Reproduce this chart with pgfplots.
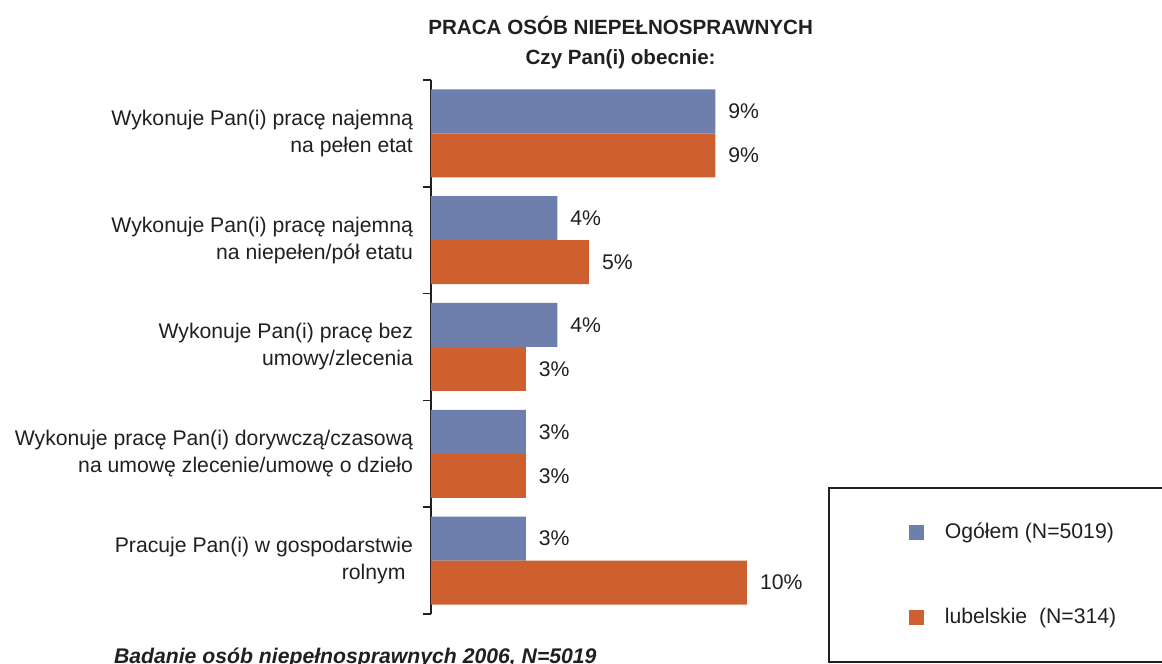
\documentclass[border=0pt]{standalone}
\usepackage{pgfplots}
\pgfplotsset{compat=1.18}
\usepackage{fontspec}
\setmainfont{Liberation Sans}
\usetikzlibrary{calc}

\definecolor{ogolem}{RGB}{111,127,173}
\definecolor{lubel}{RGB}{205,96,46}
\definecolor{txt}{RGB}{35,31,32}

\begin{document}
\begin{tikzpicture}[font=\fontsize{10.6}{13.5}\selectfont, text=txt]
\begin{axis}[
    name=ax,
    scale only axis,
    width=189.6pt, height=267pt,
    xbar, bar width=22pt,
    xmin=0, xmax=12,
    ymin=-0.5, ymax=4.5,
    enlargelimits=false,
    axis x line=none,
    axis y line=left,
    axis line style={-, line width=0.8pt, draw=txt},
    ytick={0,1,2,3,4},
    % listed from the bottom category up
    yticklabels={
        {Pracuje Pan(i) w gospodarstwie\\rolnym\hspace*{0.35em}},
        {Wykonuje pracę Pan(i) dorywczą/czasową\\na umowę zlecenie/umowę o dzieło},
        {Wykonuje Pan(i) pracę bez\\umowy/zlecenia},
        {Wykonuje Pan(i) pracę najemną\\na niepełen/pół etatu},
        {Wykonuje Pan(i) pracę najemną\\na pełen etat}},
    yticklabel style={align=right, xshift=-5.5pt, text=txt},
    major tick length=0pt,
    extra y ticks={-0.5,0.5,1.5,2.5,3.5,4.5},
    extra y tick labels={},
    extra tick style={major tick length=4pt, tick align=outside,
        major tick style={line width=0.8pt, draw=txt}},
    /pgf/number format/assume math mode=true,
    point meta=x,
    nodes near coords={\pgfmathprintnumber{\pgfplotspointmeta}\%},
    nodes near coords style={text=txt, xshift=3pt},
    legend image code/.code={\fill[#1] (0pt,-3.75pt) rectangle (7.5pt,3.75pt);},
    legend cell align=left,
    legend style={at={(1.047,0.2378)}, anchor=north west,
        draw=txt, line width=0.8pt,
        inner xsep=40pt, inner ysep=15.5pt, row sep=29.5pt,
        font=\fontsize{10.6}{13.5}\selectfont, text=txt},
]
\addplot[fill=ogolem, draw=none, bar shift=11pt] coordinates {
    (9,4) (4,3) (4,2) (3,1) (3,0)
};
\addlegendentry{\hspace*{8.5pt}\makebox[130pt][l]{Ogółem (N=5019)}}
\addplot[fill=lubel, draw=none, bar shift=-11pt] coordinates {
    (9,4) (5,3) (3,2) (3,1) (10,0)
};
\addlegendentry{\hspace*{8.5pt}\makebox[130pt][l]{lubelskie\ \ (N=314)}}
\coordinate (O) at (rel axis cs:0,0);
\coordinate (T) at (rel axis cs:0.5,1);
\end{axis}
\node[anchor=south, align=center, font=\bfseries\fontsize{10.3}{15}\selectfont]
    at ($(T)+(0,2.2pt)$) {PRACA OSÓB NIEPEŁNOSPRAWNYCH\\Czy Pan(i) obecnie:};
\node[anchor=base west, font=\bfseries\itshape\fontsize{10.6}{13}\selectfont]
    at ($(O)+(-162pt,-24.5pt)$) {Badanie osób niepełnosprawnych 2006, N=5019};
\pgfresetboundingbox
\path[use as bounding box] ($(O)+(-215.5pt,-25pt)$) rectangle ($(O)+(365.5pt,307pt)$);
\end{tikzpicture}
\end{document}
